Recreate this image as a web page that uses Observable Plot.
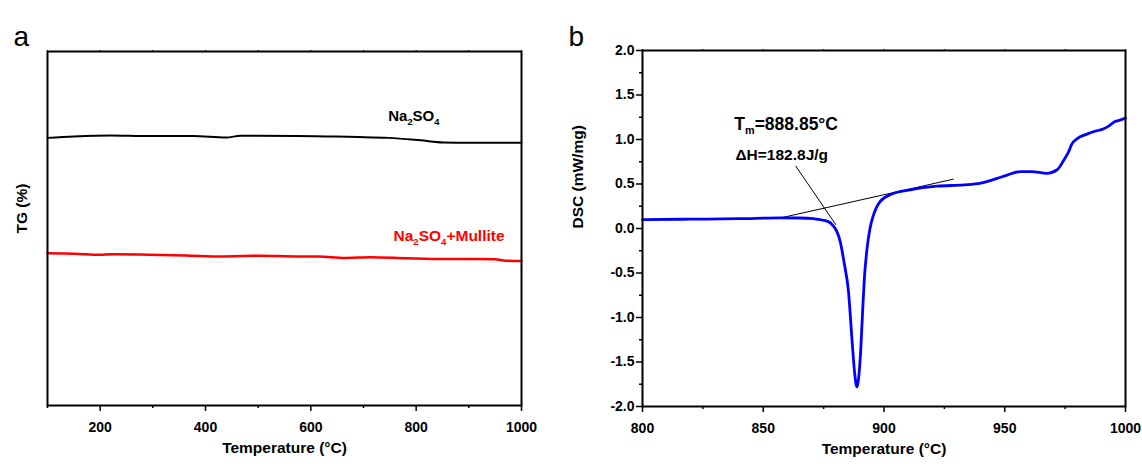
<!DOCTYPE html>
<html><head><meta charset="utf-8">
<script src="https://cdn.jsdelivr.net/npm/d3@7"></script>
<script src="https://cdn.jsdelivr.net/npm/@observablehq/plot@0.6"></script>
<style>
html,body{margin:0;padding:0;background:#fff;}
#wrap{display:flex;width:1142px;height:464px;}
</style></head><body><div id="wrap"></div>
<script>
// ---------- Panel a: TG ----------
const tgTicksMajor = [200, 400, 600, 800, 1000];
const tgTicksMinor = [100, 300, 500, 700, 900];
const na2so4Temp = [100, 150, 220, 290, 376, 439, 467, 573, 629, 690, 748, 808, 852, 900, 1000];
const na2so4TG   = [75.6, 76.0, 76.3, 76.1, 76.1, 75.7, 76.2, 76.1, 76.0, 75.85, 75.6, 74.9, 74.3, 74.2, 74.2];
const mulliteTemp = [100, 151, 200, 221, 292, 362, 432, 502, 573, 615, 664, 713, 783, 854, 910, 950, 970, 1000];
const mulliteTG   = [43.0, 42.9, 42.6, 42.7, 42.6, 42.4, 42.1, 42.3, 42.1, 42.1, 41.7, 41.9, 41.6, 41.4, 41.4, 41.3, 40.9, 40.8];

// ---------- Panel b: DSC ----------
const dscTicksXMajor = [800, 850, 900, 950, 1000];
const dscTicksXMinor = [825, 875, 925, 975];
const dscTicksYMajor = [-2, -1.5, -1, -0.5, 0, 0.5, 1, 1.5, 2];
const dscTicksYMinor = [-1.75, -1.25, -0.75, -0.25, 0.25, 0.75, 1.25, 1.75];
const dscTemp = [800, 820, 840, 857, 865, 870.8, 876.7, 879, 880.4, 881.9, 883.4, 885.3, 886.8, 887.9, 888.5, 888.85,
  889.5, 890.4, 891.2, 891.9, 893.0, 894.2, 895.5, 898.3, 903, 911, 922, 933, 940, 946.5, 951, 956.5, 961, 967.5,
  971.7, 974.5, 976.5, 977.6, 980, 984, 987, 991, 993, 995.5, 998, 1000];
const dscValue = [0.10, 0.105, 0.11, 0.12, 0.118, 0.11, 0.08, 0.03, -0.03, -0.15, -0.37, -0.71, -1.27, -1.64, -1.76, -1.78,
  -1.68, -1.35, -0.90, -0.55, -0.22, 0.0, 0.14, 0.30, 0.385, 0.435, 0.475, 0.49, 0.51, 0.56, 0.60, 0.64, 0.64, 0.62,
  0.66, 0.77, 0.865, 0.94, 1.01, 1.06, 1.09, 1.12, 1.15, 1.20, 1.22, 1.24];
const baselineTemp = [858, 928.7];
const baselineValue = [0.124, 0.554];
const leaderTemp = [863.5, 880];
const leaderValue = [0.70, 0.045];

const labelA = "Na_2SO_4";
const labelB = "Na_2SO_4+Mullite";
const noteTm = "T_m=888.85°C";
const noteDH = "ΔH=182.8J/g";

const font = "'Liberation Sans', Arial, sans-serif";
const zip = (xs, ys) => xs.map((x, i) => ({x, y: ys[i]}));
const blank = () => "";

const left = Plot.plot({
  width: 560, height: 464,
  marginLeft: 47, marginRight: 39, marginTop: 51, marginBottom: 59,
  style: {fontFamily: font, fontSize: "14px", fontWeight: "bold", background: "#fff", color: "#000", overflow: "visible"},
  x: {domain: [100, 1000]},
  y: {domain: [0, 100], axis: null},
  marks: [
    Plot.axisX({ticks: tgTicksMajor, tickSize: 6, tickPadding: 11, tickFormat: d => String(d), label: null, strokeWidth: 1.5, fontSize: 14}),
    Plot.axisX({ticks: tgTicksMinor, tickSize: 3, tickFormat: blank, label: null, strokeWidth: 1.5}),
    Plot.axisX({anchor: "top", ticks: tgTicksMajor.concat(tgTicksMinor), tickSize: 2, tickFormat: blank, label: null, strokeWidth: 1}),
    Plot.line(zip(na2so4Temp, na2so4TG), {x: "x", y: "y", stroke: "#000", strokeWidth: 2, curve: "monotone-x"}),
    Plot.line(zip(mulliteTemp, mulliteTG), {x: "x", y: "y", stroke: "#ff0000", strokeWidth: 2.5, curve: "monotone-x"}),
    Plot.text([labelA], {x: 747, y: 81.6, text: d => d, textAnchor: "start", fill: "#000", fontSize: 15}),
    Plot.text([labelB], {x: 757, y: 47.8, text: d => d, textAnchor: "start", fill: "#ff0000", fontSize: 15.5}),
    Plot.frame({stroke: "#000", strokeWidth: 2}),
    Plot.text(["Temperature (°C)"], {frameAnchor: "bottom", dy: 47, text: d => d, fontSize: 15.5}),
    Plot.text(["TG (%)"], {frameAnchor: "left", dx: -25, dy: 5, rotate: -90, text: d => d, fontSize: 15.5}),
    Plot.text(["a"], {frameAnchor: "top-left", dx: -34, dy: -25, textAnchor: "start", text: d => d, fontSize: 28, fontWeight: "normal"})
  ]
});

const right = Plot.plot({
  width: 582, height: 464,
  marginLeft: 82, marginRight: 17, marginTop: 50, marginBottom: 58,
  style: {fontFamily: font, fontSize: "14px", fontWeight: "bold", background: "#fff", color: "#000", overflow: "visible"},
  x: {domain: [800, 1000]},
  y: {domain: [-2, 2]},
  marks: [
    Plot.axisX({ticks: dscTicksXMajor, tickSize: 6, tickPadding: 11, tickFormat: d => String(d), label: null, strokeWidth: 1.5, fontSize: 14}),
    Plot.axisX({ticks: dscTicksXMinor, tickSize: 3, tickFormat: blank, label: null, strokeWidth: 1.5}),
    Plot.axisX({anchor: "top", ticks: dscTicksXMajor.concat(dscTicksXMinor), tickSize: 2, tickFormat: blank, label: null, strokeWidth: 1}),
    Plot.axisY({ticks: dscTicksYMajor, tickSize: 6, tickPadding: 2, tickFormat: d => d.toFixed(1), label: null, strokeWidth: 1.5, fontSize: 14}),
    Plot.axisY({ticks: dscTicksYMinor, tickSize: 3, tickFormat: blank, label: null, strokeWidth: 1.5}),
    Plot.line(zip(baselineTemp, baselineValue), {x: "x", y: "y", stroke: "#000", strokeWidth: 1}),
    Plot.line(zip(leaderTemp, leaderValue), {x: "x", y: "y", stroke: "#000", strokeWidth: 1}),
    Plot.line(zip(dscTemp, dscValue), {x: "x", y: "y", stroke: "#0000ff", strokeWidth: 2.8, curve: "monotone-x"}),
    Plot.text([noteTm], {x: 838, y: 1.175, text: d => d, textAnchor: "start", fontSize: 17.5}),
    Plot.text([noteDH], {x: 838.5, y: 0.83, text: d => d, textAnchor: "start", fontSize: 15.5}),
    Plot.frame({stroke: "#000", strokeWidth: 2}),
    Plot.text(["Temperature (°C)"], {frameAnchor: "bottom", dy: 47, text: d => d, fontSize: 15.5}),
    Plot.text(["DSC (mW/mg)"], {frameAnchor: "left", dx: -64, rotate: -90, text: d => d, fontSize: 15.5}),
    Plot.text(["b"], {frameAnchor: "top-left", dx: -74, dy: -24, textAnchor: "start", text: d => d, fontSize: 28, fontWeight: "normal"})
  ]
});

// turn "_x" markers into real subscripts
function subscripts(svg) {
  const NS = "http://www.w3.org/2000/svg";
  svg.querySelectorAll("text").forEach(t => {
    const s = t.textContent;
    if (!s.includes("_")) return;
    t.textContent = "";
    let shifted = false;
    for (const p of s.split(/(_.)/)) {
      if (!p) continue;
      const ts = document.createElementNS(NS, "tspan");
      if (p[0] === "_") {
        ts.textContent = p.slice(1);
        ts.setAttribute("font-size", "0.62em");
        ts.setAttribute("dy", "4");
        shifted = true;
      } else {
        ts.textContent = p;
        if (shifted) { ts.setAttribute("dy", "-4"); shifted = false; }
      }
      t.appendChild(ts);
    }
  });
}
subscripts(left);
subscripts(right);
const wrap = document.getElementById("wrap");
wrap.appendChild(left);
wrap.appendChild(right);
</script>
</body></html>
